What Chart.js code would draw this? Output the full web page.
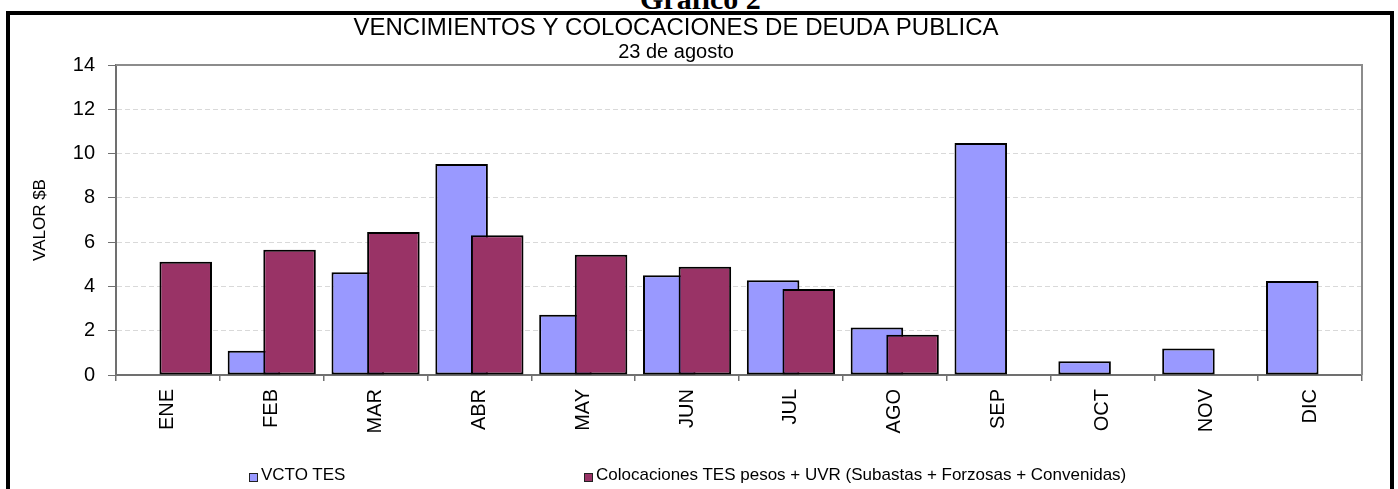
<!DOCTYPE html>
<html>
<head>
<meta charset="utf-8">
<script src="https://cdn.jsdelivr.net/npm/chart.js@4.4.1/dist/chart.umd.min.js"></script>
<style>
  html, body { margin: 0; padding: 0; background: #fff; overflow: hidden; }
  #wrap { position: relative; width: 1398px; height: 489px; overflow: hidden; }
  #caption { position: absolute; left: 640px; top: -16px; font: bold 30px "Liberation Serif", "Times New Roman", serif; line-height: 30px; white-space: nowrap; color: #000; }
  #frame { position: absolute; left: 6px; top: 11px; width: 1388px; height: 500px; border: 4px solid #000; box-sizing: border-box; }
  #chart { position: absolute; left: 0; top: 0; }
  .item { position: absolute; top: 465px; height: 20px; display: flex; align-items: center; font: 17px "Liberation Sans", Arial, sans-serif; color: #000; white-space: nowrap; }
  .swatch { width: 7px; height: 7px; border: 1.5px solid #222; margin-right: 3px; position: relative; top: 2px; }
</style>
</head>
<body>
<div id="wrap">
  <div id="caption">Gráfico 2</div>
  <div id="frame"></div>
  <canvas id="chart" width="1398" height="489"></canvas>
  <div id="legend"></div>
</div>
<script>
const months = ['ENE', 'FEB', 'MAR', 'ABR', 'MAY', 'JUN', 'JUL', 'AGO', 'SEP', 'OCT', 'NOV', 'DIC'];
const vctoTes = [null, 1.10, 4.64, 9.53, 2.72, 4.50, 4.28, 2.15, 10.48, 0.62, 1.20, 4.25];
const colocaciones = [5.12, 5.66, 6.46, 6.31, 5.43, 4.89, 3.88, 1.82, null, null, null, null];
const seriesNames = ['VCTO TES', 'Colocaciones TES pesos + UVR (Subastas + Forzosas + Convenidas)'];
const seriesColors = ['#9999FF', '#993366'];
const yMin = 0, yMax = 14, yStep = 2;

const legendLeft = [249, 584];

Chart.defaults.font.family = '"Liberation Sans", Arial, sans-serif';
Chart.defaults.color = '#000';

// second series is drawn after the first so it covers the overlap
const colocacionesOnTop = {
  id: 'colocacionesOnTop',
  beforeDatasetDraw(chart, args) {
    if (args.index === 1) return false;
  },
  afterDatasetsDraw(chart) {
    const meta = chart.getDatasetMeta(1);
    if (!meta.hidden) meta.controller.draw();
  }
};

// gray top and right edges of the plot area
const plotFrame = {
  id: 'plotFrame',
  beforeDatasetsDraw(chart) {
    const { ctx, chartArea: a } = chart;
    ctx.save();
    ctx.strokeStyle = '#8c8c8c';
    ctx.lineWidth = 2;
    ctx.beginPath();
    ctx.moveTo(a.left, a.top);
    ctx.lineTo(a.right, a.top);
    ctx.lineTo(a.right, a.bottom);
    ctx.stroke();
    ctx.restore();
  }
};

const chart = new Chart(document.getElementById('chart'), {
  type: 'bar',
  data: {
    labels: months,
    datasets: [
      { label: seriesNames[0], data: vctoTes, backgroundColor: seriesColors[0] },
      { label: seriesNames[1], data: colocaciones, backgroundColor: seriesColors[1] }
    ]
  },
  options: {
    responsive: false,
    animation: false,
    layout: { padding: { left: -10, right: 36, top: 0, bottom: 0 } },
    datasets: {
      bar: {
        categoryPercentage: 0.686,
        barPercentage: 1.475,
        borderWidth: 2,
        borderColor: '#000',
        borderSkipped: false
      }
    },
    plugins: {
      legend: { display: false },
      tooltip: { enabled: false },
      title: {
        display: true,
        text: 'VENCIMIENTOS Y COLOCACIONES DE DEUDA PUBLICA',
        font: { size: 24, weight: 'normal' },
        color: '#000',
        padding: { top: 14, bottom: 0 }
      },
      subtitle: {
        display: true,
        text: '23 de agosto',
        font: { size: 20, weight: 'normal', lineHeight: 1 },
        color: '#000',
        padding: { top: 0, bottom: 2.2 }
      }
    },
    scales: {
      x: {
        grid: { offset: true, drawOnChartArea: false, tickLength: 6, color: '#707070', lineWidth: 1.5 },
        border: { color: '#707070', width: 2 },
        ticks: { autoSkip: false, minRotation: 90, maxRotation: 90, padding: 8, font: { size: 20 } },
        afterFit(s) { s.height = 114; }
      },
      y: {
        min: yMin,
        max: yMax,
        ticks: { stepSize: yStep, padding: 13, font: { size: 20 } },
        grid: { color: '#d9d9d9', lineWidth: 1, tickColor: '#707070', tickLength: 8 },
        border: { color: '#707070', width: 2, dash: [5, 3] },
        title: { display: true, text: 'VALOR $B', font: { size: 17 }, padding: { top: 40, bottom: 0 } },
        afterFit(s) { s.width = 126; }
      }
    }
  },
  plugins: [colocacionesOnTop, plotFrame]
});

// legend entries below the axis labels
const legendBox = document.getElementById('legend');
chart.data.datasets.forEach((ds, i) => {
  const item = document.createElement('div');
  item.className = 'item';
  item.style.left = legendLeft[i] + 'px';
  const sw = document.createElement('span');
  sw.className = 'swatch';
  sw.style.background = ds.backgroundColor;
  item.appendChild(sw);
  item.appendChild(document.createTextNode(ds.label));
  legendBox.appendChild(item);
});
</script>
</body>
</html>
